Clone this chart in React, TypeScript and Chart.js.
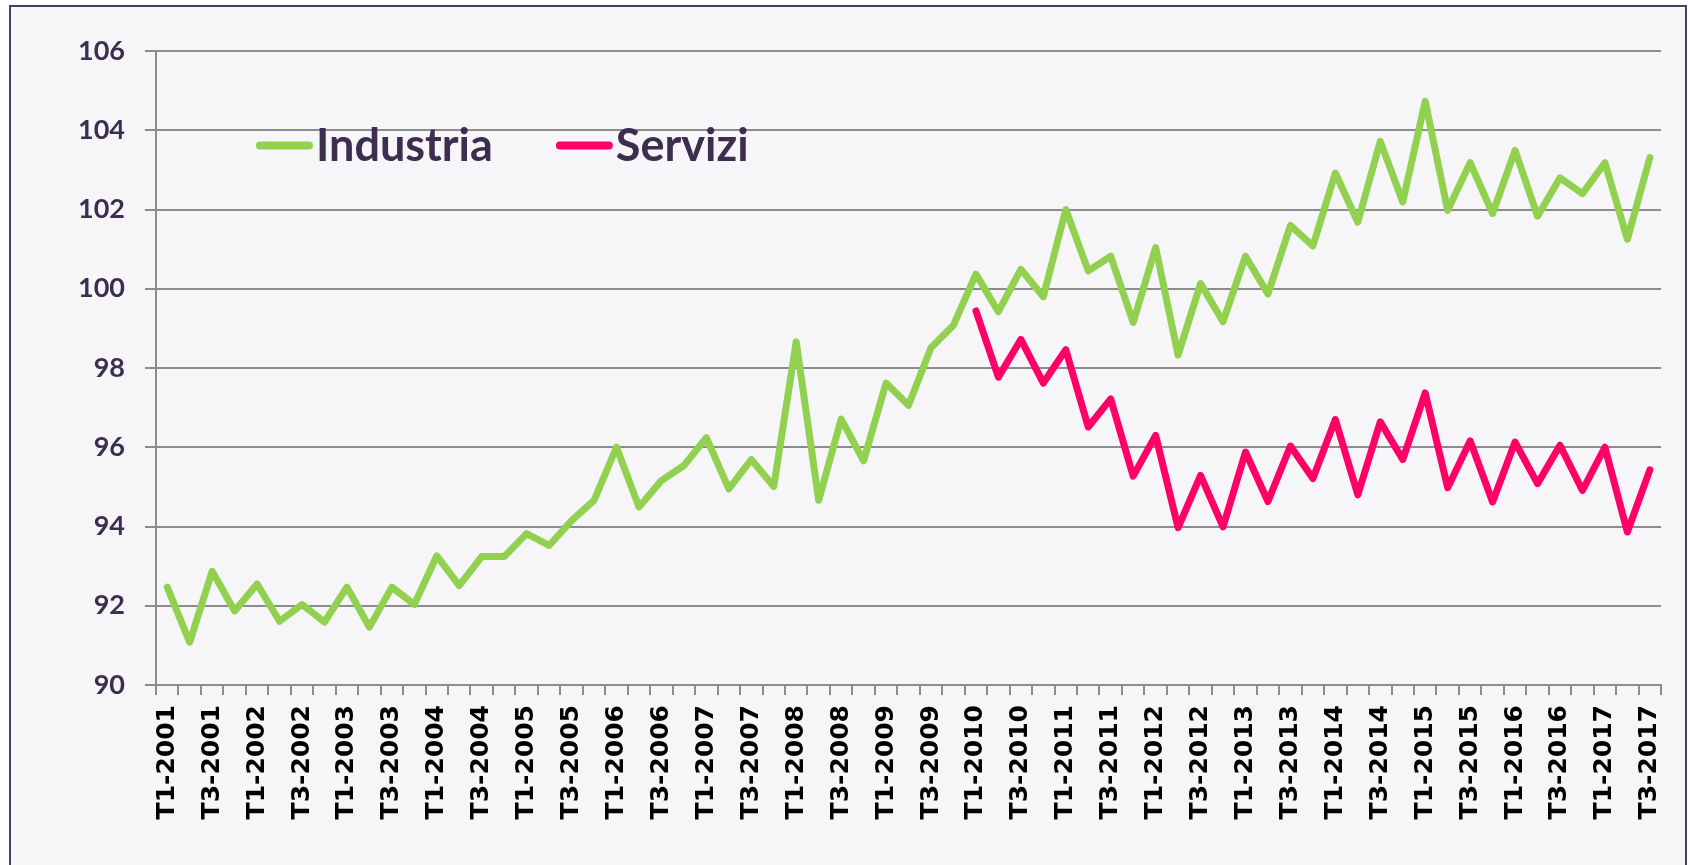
import React, { useEffect, useRef } from "react";
import { Chart, registerables } from "chart.js";

Chart.register(...registerables);

const quarterLabels = [
  "T1-2001", "T2-2001", "T3-2001", "T4-2001",
  "T1-2002", "T2-2002", "T3-2002", "T4-2002",
  "T1-2003", "T2-2003", "T3-2003", "T4-2003",
  "T1-2004", "T2-2004", "T3-2004", "T4-2004",
  "T1-2005", "T2-2005", "T3-2005", "T4-2005",
  "T1-2006", "T2-2006", "T3-2006", "T4-2006",
  "T1-2007", "T2-2007", "T3-2007", "T4-2007",
  "T1-2008", "T2-2008", "T3-2008", "T4-2008",
  "T1-2009", "T2-2009", "T3-2009", "T4-2009",
  "T1-2010", "T2-2010", "T3-2010", "T4-2010",
  "T1-2011", "T2-2011", "T3-2011", "T4-2011",
  "T1-2012", "T2-2012", "T3-2012", "T4-2012",
  "T1-2013", "T2-2013", "T3-2013", "T4-2013",
  "T1-2014", "T2-2014", "T3-2014", "T4-2014",
  "T1-2015", "T2-2015", "T3-2015", "T4-2015",
  "T1-2016", "T2-2016", "T3-2016", "T4-2016",
  "T1-2017", "T2-2017", "T3-2017",
];

const industria = [
  92.47, 91.08, 92.87, 91.87, 92.55, 91.61, 92.03, 91.59,
  92.47, 91.46, 92.47, 92.03, 93.26, 92.51, 93.24, 93.24,
  93.82, 93.52, 94.15, 94.66, 96.0, 94.49, 95.16, 95.54,
  96.24, 94.95, 95.69, 95.01, 98.66, 94.66, 96.71, 95.66,
  97.62, 97.06, 98.51, 99.08, 100.37, 99.42, 100.49, 99.8,
  102.0, 100.45, 100.82, 99.15, 101.04, 98.33, 100.13, 99.17,
  100.82, 99.87, 101.6, 101.08, 102.92, 101.68, 103.72, 102.19,
  104.73, 101.98, 103.18, 101.9, 103.49, 101.83, 102.8, 102.4,
  103.18, 101.25, 103.31,
];

const servizi = [
  null, null, null, null, null, null, null, null,
  null, null, null, null, null, null, null, null,
  null, null, null, null, null, null, null, null,
  null, null, null, null, null, null, null, null,
  null, null, null, null, 99.44, 97.77, 98.72, 97.62,
  98.46, 96.51, 97.22, 95.27, 96.3, 93.97, 95.29, 93.99,
  95.88, 94.63, 96.03, 95.21, 96.7, 94.8, 96.64, 95.69,
  97.37, 94.98, 96.16, 94.62, 96.13, 95.08, 96.05, 94.91,
  96.0, 93.86, 95.43,
];

const seriesNames = ["Industria", "Servizi"];
const seriesColors = ["#92D050", "#FF0066"];
const yTicks = { min: 90, max: 106, step: 2 };

const TEXT_PURPLE = "#3D2E50";
const GRID_GRAY = "#8C8C8C";

const frameAndLegend = {
  id: "frameAndLegend",
  beforeDraw(chart: any) {
    const ctx = chart.ctx;
    ctx.save();
    ctx.fillStyle = "#FFFFFF";
    ctx.fillRect(0, 0, chart.width, chart.height);
    ctx.fillStyle = "#F6F6F9";
    ctx.fillRect(10, 6, 1676, 900);
    ctx.strokeStyle = "#4A3D66";
    ctx.lineWidth = 2;
    ctx.strokeRect(10, 6, 1676, 900);
    ctx.restore();
  },
  afterDraw(chart: any) {
    const ctx = chart.ctx;
    ctx.save();
    const y = 145.5;
    let x = 256;
    ctx.font = "bold 45px Lato";
    ctx.textBaseline = "middle";
    chart.data.datasets.forEach((ds: any) => {
      ctx.strokeStyle = ds.borderColor;
      ctx.lineWidth = 8;
      ctx.lineCap = "round";
      ctx.beginPath();
      ctx.moveTo(x + 4, y);
      ctx.lineTo(x + 53, y);
      ctx.stroke();
      ctx.fillStyle = TEXT_PURPLE;
      ctx.textAlign = "left";
      ctx.fillText(ds.label, x + 60, y + 1);
      const w = ctx.measureText(ds.label).width;
      x = x + 60 + w + 63;
    });
    ctx.restore();
  },
};

export default function App() {
  const canvasRef = useRef<HTMLCanvasElement | null>(null);

  useEffect(() => {
    const canvas = canvasRef.current;
    if (!canvas) return;
    const chart = new Chart(canvas, {
      type: "line",
      data: {
        labels: quarterLabels,
        datasets: [
          {
            label: seriesNames[0],
            data: industria,
            borderColor: seriesColors[0],
            backgroundColor: seriesColors[0],
            borderWidth: 7,
            pointRadius: 0,
            tension: 0,
            borderCapStyle: "round",
            borderJoinStyle: "round",
          },
          {
            label: seriesNames[1],
            data: servizi,
            borderColor: seriesColors[1],
            backgroundColor: seriesColors[1],
            borderWidth: 7,
            pointRadius: 0,
            tension: 0,
            spanGaps: false,
            borderCapStyle: "round",
            borderJoinStyle: "round",
          },
        ],
      },
      options: {
        responsive: false,
        animation: false,
        devicePixelRatio: 1,
        layout: { padding: { left: 0, top: 51, right: 21, bottom: 0 } },
        plugins: {
          legend: { display: false },
          tooltip: { enabled: false },
          title: { display: false },
        },
        scales: {
          x: {
            type: "category",
            offset: true,
            grid: {
              display: true,
              offset: true,
              drawOnChartArea: false,
              drawTicks: true,
              tickLength: 10,
              color: GRID_GRAY,
              lineWidth: 2,
            },
            border: { display: true, color: GRID_GRAY, width: 2 },
            ticks: {
              autoSkip: false,
              minRotation: 90,
              maxRotation: 90,
              padding: 10,
              color: "#000000",
              font: { family: "DejaVu Sans", weight: "bold", size: 25 },
              callback: (_v: any, idx: number) =>
                idx % 2 === 0 ? quarterLabels[idx] : "",
            },
            afterFit: (scale: any) => {
              scale.height = 180;
            },
          },
          y: {
            min: yTicks.min,
            max: yTicks.max,
            grid: {
              color: GRID_GRAY,
              lineWidth: 2,
              tickLength: 11,
            },
            border: { display: true, color: GRID_GRAY, width: 2 },
            ticks: {
              stepSize: yTicks.step,
              padding: 20,
              color: TEXT_PURPLE,
              font: { family: "Lato", weight: "bold", size: 27 },
            },
            afterFit: (scale: any) => {
              scale.width = 156;
            },
          },
        },
      },
      plugins: [frameAndLegend],
    });
    return () => chart.destroy();
  }, []);

  return (
    <div style={{ position: "absolute", left: 0, top: 0, width: 1690, height: 865 }}>
      <canvas ref={canvasRef} width={1690} height={865} />
    </div>
  );
}
